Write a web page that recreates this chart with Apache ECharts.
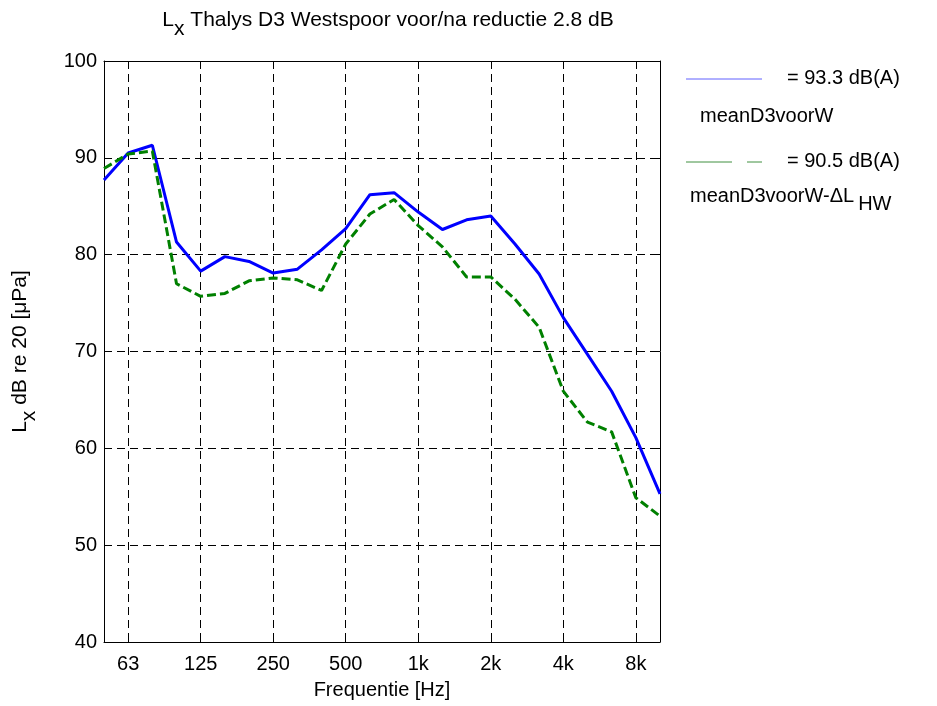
<!DOCTYPE html>
<html>
<head>
<meta charset="utf-8">
<script src="https://cdn.jsdelivr.net/npm/echarts@6/dist/echarts.min.js"></script>
<style>html,body{margin:0;padding:0;background:#fff}#c{width:937px;height:706px}</style>
</head>
<body>
<div id="c"></div>
<script>
const freqLabels = ['50','63','80','100','125','160','200','250','315','400','500','630','800','1k','1.25k','1.6k','2k','2.5k','3.15k','4k','5k','6.3k','8k','10k'];
const meanD3voorW = [87.7,90.5,91.3,81.3,78.3,79.8,79.3,78.1,78.5,80.5,82.7,86.2,86.4,84.4,82.6,83.6,84.0,81.1,78.0,73.5,69.7,65.9,61.1,55.3];
const meanD3voorWminusDL = [88.9,90.4,90.7,77.0,75.7,76.0,77.3,77.6,77.4,76.3,81.1,84.2,85.7,83.0,80.8,77.7,77.7,75.4,72.5,65.9,62.7,61.7,54.9,53.0];
const yTicks = {min: 40, max: 100, step: 10};
const legendTexts = ['= 93.3 dB(A)', 'meanD3voorW', '= 90.5 dB(A)', 'meanD3voorW-\u0394L'];

const FONT = '"Liberation Sans", Arial, sans-serif';
const FS = 20;
const FT = 21;
const showIdx = (i) => (i - 1) % 3 === 0;

const chart = echarts.init(document.getElementById('c'));
const gridDash = {color: '#000', width: 1, type: [8, 5]};

chart.setOption({
  animation: false,
  backgroundColor: '#fff',
  textStyle: {fontFamily: FONT},
  title: {
    text: '{m|L}{s|x}{m| Thalys D3 Westspoor voor/na reductie 2.8 dB}',
    left: 383, top: 5, textAlign: 'center',
    textStyle: {
      fontWeight: 'normal',
      rich: {
        m: {fontFamily: FONT, fontSize: FT, fontWeight: 'normal', color: '#000', lineHeight: 22, verticalAlign: 'top'},
        s: {fontFamily: FONT, fontSize: FT, fontWeight: 'normal', color: '#000', lineHeight: 22, verticalAlign: 'top', padding: [9, 0, 0, 0]}
      }
    }
  },
  grid: {left: 104, right: 277, top: 61, bottom: 64, containLabel: false},
  xAxis: [{
    type: 'category', data: freqLabels, boundaryGap: false,
    name: 'Frequentie [Hz]', nameLocation: 'middle', nameGap: 38,
    nameTextStyle: {fontFamily: FONT, fontSize: FS, color: '#000'},
    axisLine: {lineStyle: {color: '#000', width: 1}},
    axisTick: {inside: true, length: 5, interval: showIdx, lineStyle: {color: '#000'}},
    axisLabel: {interval: showIdx, fontFamily: FONT, fontSize: FS, color: '#000', margin: 12},
    splitLine: {show: true, interval: showIdx, lineStyle: gridDash}
  }, {
    type: 'category', data: freqLabels, boundaryGap: false, position: 'top',
    axisLine: {lineStyle: {color: '#000', width: 1}},
    axisTick: {inside: true, length: 5, interval: showIdx, lineStyle: {color: '#000'}},
    axisLabel: {show: false}, splitLine: {show: false}
  }],
  yAxis: [{
    type: 'value', min: yTicks.min, max: yTicks.max, interval: yTicks.step,
    name: '{m|L}{s|x}{m| dB re 20 [\u03bcPa]}', nameLocation: 'middle', nameGap: 72, nameRotate: 90,
    nameTextStyle: {
      rich: {
        m: {fontFamily: FONT, fontSize: FT, color: '#000', lineHeight: 22, verticalAlign: 'top'},
        s: {fontFamily: FONT, fontSize: FT, color: '#000', lineHeight: 22, verticalAlign: 'top', padding: [9, 0, 0, 0]}
      }
    },
    axisLine: {show: true, lineStyle: {color: '#000', width: 1}},
    axisTick: {show: true, inside: true, length: 5, lineStyle: {color: '#000'}},
    axisLabel: {fontFamily: FONT, fontSize: FS, color: '#000', margin: 7},
    splitLine: {show: true, lineStyle: gridDash}
  }, {
    type: 'value', min: yTicks.min, max: yTicks.max, interval: yTicks.step, position: 'right',
    axisLine: {show: true, lineStyle: {color: '#000', width: 1}},
    axisTick: {show: true, inside: true, length: 5, lineStyle: {color: '#000'}},
    axisLabel: {show: false}, splitLine: {show: false}
  }],
  series: [{
    name: 'meanD3voorW', type: 'line', data: meanD3voorW, symbol: 'none',
    lineStyle: {color: '#0000ff', width: 3}, z: 3
  }, {
    name: 'meanD3voorW-dL', type: 'line', data: meanD3voorWminusDL, symbol: 'none',
    lineStyle: {color: '#008000', width: 3, type: [9, 4]}, z: 4
  }],
  graphic: [
    {type: 'line', shape: {x1: 686, y1: 79, x2: 762, y2: 79}, style: {stroke: '#6060ff', lineWidth: 1}},
    {type: 'text', left: 787, top: 68, style: {text: legendTexts[0], font: FS + 'px ' + FONT, fill: '#000'}},
    {type: 'text', left: 700, top: 106, style: {text: legendTexts[1], font: FS + 'px ' + FONT, fill: '#000'}},
    {type: 'line', shape: {x1: 686, y1: 162, x2: 762, y2: 162}, style: {stroke: '#409040', lineWidth: 1, lineDash: [46, 15, 15, 100]}},
    {type: 'text', left: 787, top: 151, style: {text: legendTexts[2], font: FS + 'px ' + FONT, fill: '#000'}},
    {type: 'text', left: 690, top: 186, style: {
      text: '{m|' + legendTexts[3] + '}{s|HW}',
      rich: {
        m: {fontFamily: FONT, fontSize: FS, fill: '#000', lineHeight: 22, verticalAlign: 'top'},
        s: {fontFamily: FONT, fontSize: FS, fill: '#000', lineHeight: 22, verticalAlign: 'top', padding: [8, 0, 0, 4]}
      }
    }}
  ]
});
</script>
</body>
</html>
